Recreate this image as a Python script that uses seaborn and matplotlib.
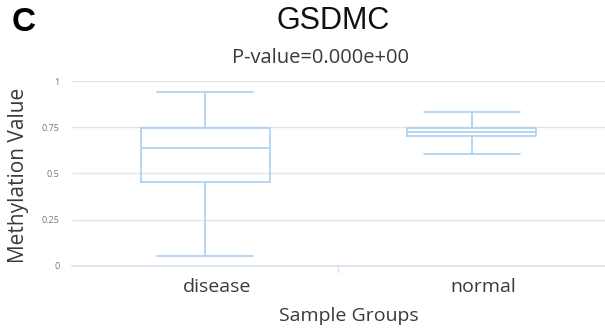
import numpy as np
import pandas as pd
import matplotlib
matplotlib.use("Agg")
import matplotlib.pyplot as plt
import matplotlib.transforms as mtransforms
import seaborn as sns

# wartosci (min, Q1, mediana, Q3, max)
groups = ["disease", "normal"]
disease_vals = [0.054, 0.454, 0.638, 0.746, 0.940]
normal_vals = [0.605, 0.703, 0.724, 0.746, 0.832]
yticks = [0, 0.25, 0.5, 0.75, 1]
ytick_labels = ["0", "0.25", "0.5", "0.75", "1"]

df = pd.DataFrame({
    "group": ["disease"] * len(disease_vals) + ["normal"] * len(normal_vals),
    "value": disease_vals + normal_vals,
})

sns.set_style("white")
plt.rcParams['font.family'] = ['Open Sans', 'DejaVu Sans']

box_col = "#a9cff2"
txt_col = "#3a3a3a"

fig = plt.figure(figsize=(6.05, 3.32), dpi=100)
ax = fig.add_axes([0.119, 0.199, 0.881, 0.557])

sns.boxplot(data=df, x="group", y="value", order=groups, ax=ax,
            whis=(0, 100), width=0.485, fill=False, color=box_col,
            linewidth=1.2,
            capprops=dict(color=box_col), whiskerprops=dict(color=box_col),
            medianprops=dict(color=box_col), boxprops=dict(color=box_col))

# caps troche szersze niz domyslnie
for line in ax.lines:
    xd = line.get_xdata()
    yd = line.get_ydata()
    if len(xd) == 2 and yd[0] == yd[1] and abs(xd[1] - xd[0]) < 0.3:
        c = (xd[0] + xd[1]) / 2
        line.set_xdata([c - 0.18, c + 0.18])

ax.set_xlim(-0.5, 1.5)
ax.set_ylim(0, 1)
ax.set_yticks(yticks)
ax.set_yticklabels(ytick_labels, fontsize=6.5, color="#777777")
ax.yaxis.grid(True, color="#e4e4e4", linewidth=1)
ax.set_axisbelow(True)
for s in ["top", "right", "left"]:
    ax.spines[s].set_visible(False)
ax.spines["bottom"].set_color("#d6e2f0")
ax.spines["bottom"].set_linewidth(1.2)
ax.tick_params(axis="y", length=0, pad=9)
ax.tick_params(axis="x", length=0, labelsize=14, labelcolor=txt_col, pad=8.5)
# etykiety grup lekko w prawo jak w oryginale
shift = mtransforms.ScaledTranslation(12 / 100, 0, fig.dpi_scale_trans)
for lab in ax.get_xticklabels():
    lab.set_transform(lab.get_transform() + shift)
# znacznik miedzy grupami
ax.plot([0.5, 0.5], [0, -0.035], color="#d6e2f0", lw=1, clip_on=False)

ax.set_xlabel("Sample Groups", fontsize=14, color=txt_col)
ax.xaxis.label.set_va("center")
ax.xaxis.set_label_coords(0.52, -0.27)
ax.set_ylabel("Methylation Value", fontsize=15, color=txt_col)
ax.yaxis.label.set_va("center")
ax.yaxis.set_label_coords(-0.101, 0.49)

fig.text(333 / 605, 1 - 21 / 332, "GSDMC", fontsize=22, ha="center", va="center",
         color="#111111", family="Liberation Sans")
fig.text(320 / 605, 1 - 58 / 332, "P-value=0.000e+00", fontsize=14.5, ha="center",
         va="center", color=txt_col)
fig.text(24 / 605, 1 - 22.5 / 332, "C", fontsize=24, fontweight="bold", ha="center",
         va="center", color="black", family="Liberation Sans")

fig.savefig("out.png", dpi=100)
